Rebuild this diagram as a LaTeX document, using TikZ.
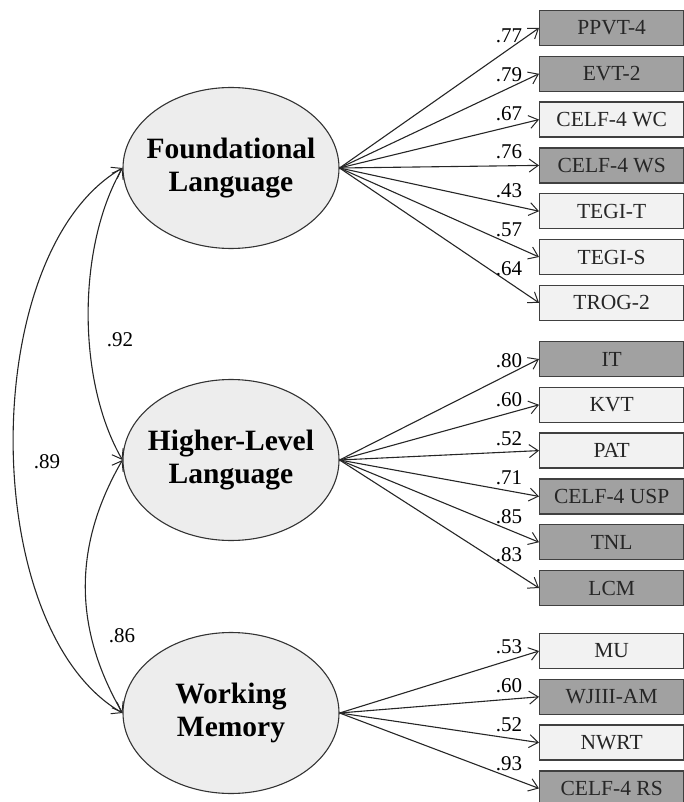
\documentclass[tikz,border=0pt]{standalone}
\usepackage{fontspec}
\setmainfont{Liberation Serif}
\usepackage{tikz}
\usetikzlibrary{arrows.meta,shapes.geometric}

\tikzset{
  factor/.style={ellipse, draw=black!80, fill=black!7, line width=1.1pt,
    minimum width=216pt, minimum height=161pt, inner xsep=-15pt, inner ysep=0pt,
    align=center, font=\fontsize{29.5}{33}\selectfont\bfseries},
  ind/.style={rectangle, draw=black!75, line width=1.3pt, anchor=west,
    minimum width=144pt, minimum height=35pt, inner sep=0pt,
    text=black!85, font=\fontsize{21.5}{21.5}\selectfont},
  dark/.style={ind, fill=black!37},
  light/.style={ind, fill=black!5},
  tip/.tip={Straight Barb[length=9pt,width=13pt,line width=1pt]},
  load/.style={-tip, line width=1.1pt, draw=black!85},
  cov/.style={tip-tip, line width=1.1pt, draw=black!85},
  lab/.style={pos=.85, above=6pt, inner sep=0pt, font=\fontsize{21}{21}\selectfont},
  corr/.style={inner sep=0pt, font=\fontsize{21}{21}\selectfont}
}

\begin{document}
\begin{tikzpicture}[x=1pt,y=1pt]
  \useasboundingbox (0,0) rectangle (684,-802);

  \node[factor] (fl) at (231,-168) {Foundational\\Language};
  \node[factor] (hl) at (231,-460) {Higher-Level\\Language};
  \node[factor] (wm) at (231,-713) {Working\\Memory};

  % indicators
  \foreach \n/\t/\s/\y/\l in {ppvt/PPVT-4/dark/28/.77, evt/EVT-2/dark/73.8/.79,
      wc/CELF-4 WC/light/119.6/.67, ws/CELF-4 WS/dark/165.4/.76,
      tegit/TEGI-T/light/211.2/.43, tegis/TEGI-S/light/257/.57,
      trog/TROG-2/light/302.8/.64}{
    \node[\s] (\n) at (539,-\y) {\t};
    \draw[load] (fl.east) -- node[lab] {\l} (\n.west);
  }
  \foreach \n/\t/\s/\y/\l in {it/IT/dark/359/.80, kvt/KVT/light/404.8/.60,
      pat/PAT/light/450.6/.52, usp/CELF-4 USP/dark/496.4/.71,
      tnl/TNL/dark/542.2/.85, lcm/LCM/dark/588/.83}{
    \node[\s] (\n) at (539,-\y) {\t};
    \draw[load] (hl.east) -- node[lab] {\l} (\n.west);
  }
  \foreach \n/\t/\s/\y/\l in {mu/MU/light/651/.53, wj/WJIII-AM/dark/696.8/.60,
      nwrt/NWRT/light/742.6/.52, rs/CELF-4 RS/dark/788.4/.93}{
    \node[\s] (\n) at (539,-\y) {\t};
    \draw[load] (wm.east) -- node[lab] {\l} (\n.west);
  }

  % correlations
  \draw[cov] (fl.west) to[out=240, in=120, looseness=.8] (hl.west);
  \draw[cov] (hl.west) to[out=240, in=120, looseness=1] (wm.west);
  \draw[cov] (fl.west) to[out=210, in=150, looseness=.79] (wm.west);

  \node[corr] (r12) at (120,-340) {.92};
  \node[corr] (r13) at (47,-462) {.89};
  \node[corr] (r23) at (122,-636) {.86};
\end{tikzpicture}
\end{document}
